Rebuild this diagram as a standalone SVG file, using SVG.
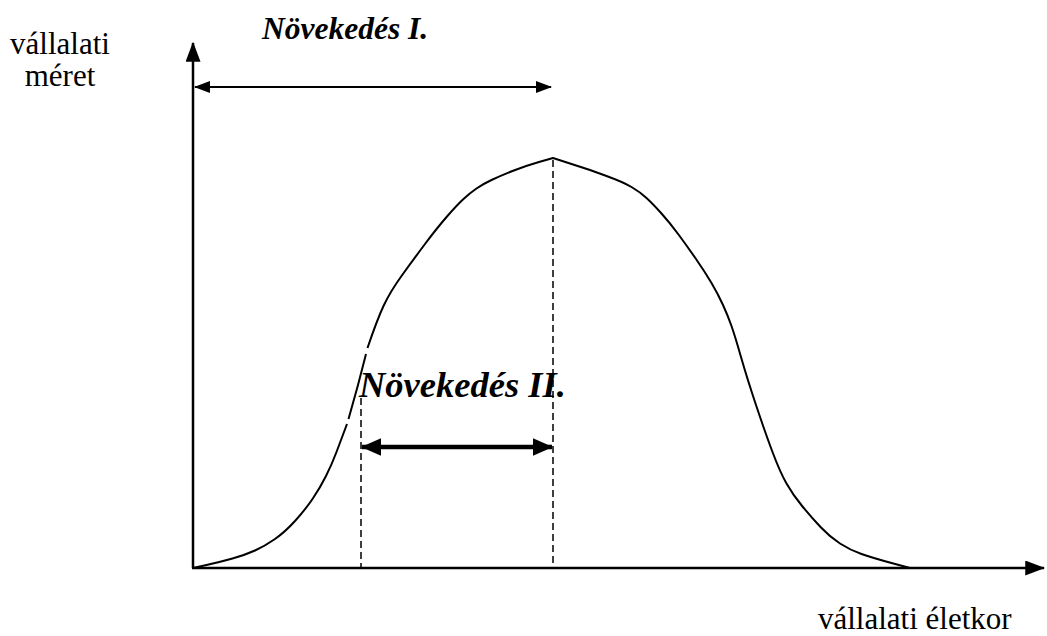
<svg xmlns="http://www.w3.org/2000/svg" width="1047" height="636" viewBox="0 0 1047 636">
<style>
.lbl{font-family:"Liberation Serif","Times New Roman",serif;font-size:31px;fill:#000}
.ttl{font-family:"Liberation Serif","Times New Roman",serif;font-weight:bold;font-style:italic;fill:#000}
.ax{stroke:#000;stroke-width:2.5;fill:none}
.crv{stroke:#000;stroke-width:2;fill:none;stroke-linejoin:round;stroke-linecap:butt}
.dash{stroke:#000;stroke-width:1.5;stroke-dasharray:7 4;fill:none}
</style>
<defs>
<marker id="ah" markerWidth="8" markerHeight="6" refX="7.5" refY="3" orient="auto-start-reverse" markerUnits="strokeWidth"><path d="M0,0 L8,3 L0,6 Z" fill="#000"/></marker>
<marker id="ah2" markerWidth="4.5" markerHeight="4" refX="4.3" refY="2" orient="auto-start-reverse" markerUnits="strokeWidth"><path d="M0,0 L4.5,2 L0,4 Z" fill="#000"/></marker>
</defs>
<g id="connectors">
<line id="y-axis" class="ax" x1="193" y1="568" x2="193" y2="43" marker-end="url(#ah)"/>
<line id="x-axis" class="ax" x1="192" y1="568" x2="1044" y2="568" marker-end="url(#ah)"/>
<line id="arrow-I" x1="195" y1="87" x2="551" y2="87" stroke="#000" stroke-width="2" marker-start="url(#ah)" marker-end="url(#ah)"/>
<line id="arrow-II" x1="362" y1="447" x2="552" y2="447" stroke="#000" stroke-width="4.5" marker-start="url(#ah2)" marker-end="url(#ah2)"/>
<line class="dash" x1="553" y1="160" x2="553" y2="567"/>
<line class="dash" x1="361" y1="398" x2="361" y2="567"/>
</g>
<g id="curve">
<path class="crv" d="M193,568 L206.5,565 Q220,562 232.5,558.5 Q245,555 255,550.5 Q265,546 275,539 Q285,532 295,521 Q305,510 312.5,499 Q320,488 326,476 Q332,464 336.5,452 Q341,440 347,424"/>
<path class="crv" d="M348.5,419 L358,385 L366,354"/>
<path class="crv" d="M367.5,348 Q377,320 383.5,306 Q390,292 401.5,276 Q413,260 425,244 Q437,228 447,216.5 Q457,205 463.5,199 Q470,193 476.5,188.5 Q483,184 491.5,180 Q500,176 512.5,171 Q525,166 539,162 L553,158 L590,170 L606.5,176 Q623,182 631.5,187 Q640,192 646.5,198 Q653,204 661.5,213.5 Q670,223 678.5,234.5 Q687,246 696,259 Q705,272 711.5,283 Q718,294 723,305 Q728,316 731.5,326 Q735,336 741,357 Q747,378 756,405 Q765,432 772.5,452 Q780,472 786.5,483.5 Q793,495 802.5,506.5 Q812,518 821,527.5 Q830,537 840,543.5 Q850,550 861.5,554 Q873,558 891.5,563 L910,568"/>
</g>
<g id="labels">
<text class="lbl" x="60" y="54" text-anchor="middle">vállalati</text>
<text class="lbl" x="60" y="86" text-anchor="middle">méret</text>
<text class="ttl" x="262" y="39" font-size="31.5">Növekedés I.</text>
<text class="ttl" x="359" y="397" font-size="36.5">Növekedés II.</text>
<text class="lbl" x="818" y="629">vállalati életkor</text>
</g>
</svg>
